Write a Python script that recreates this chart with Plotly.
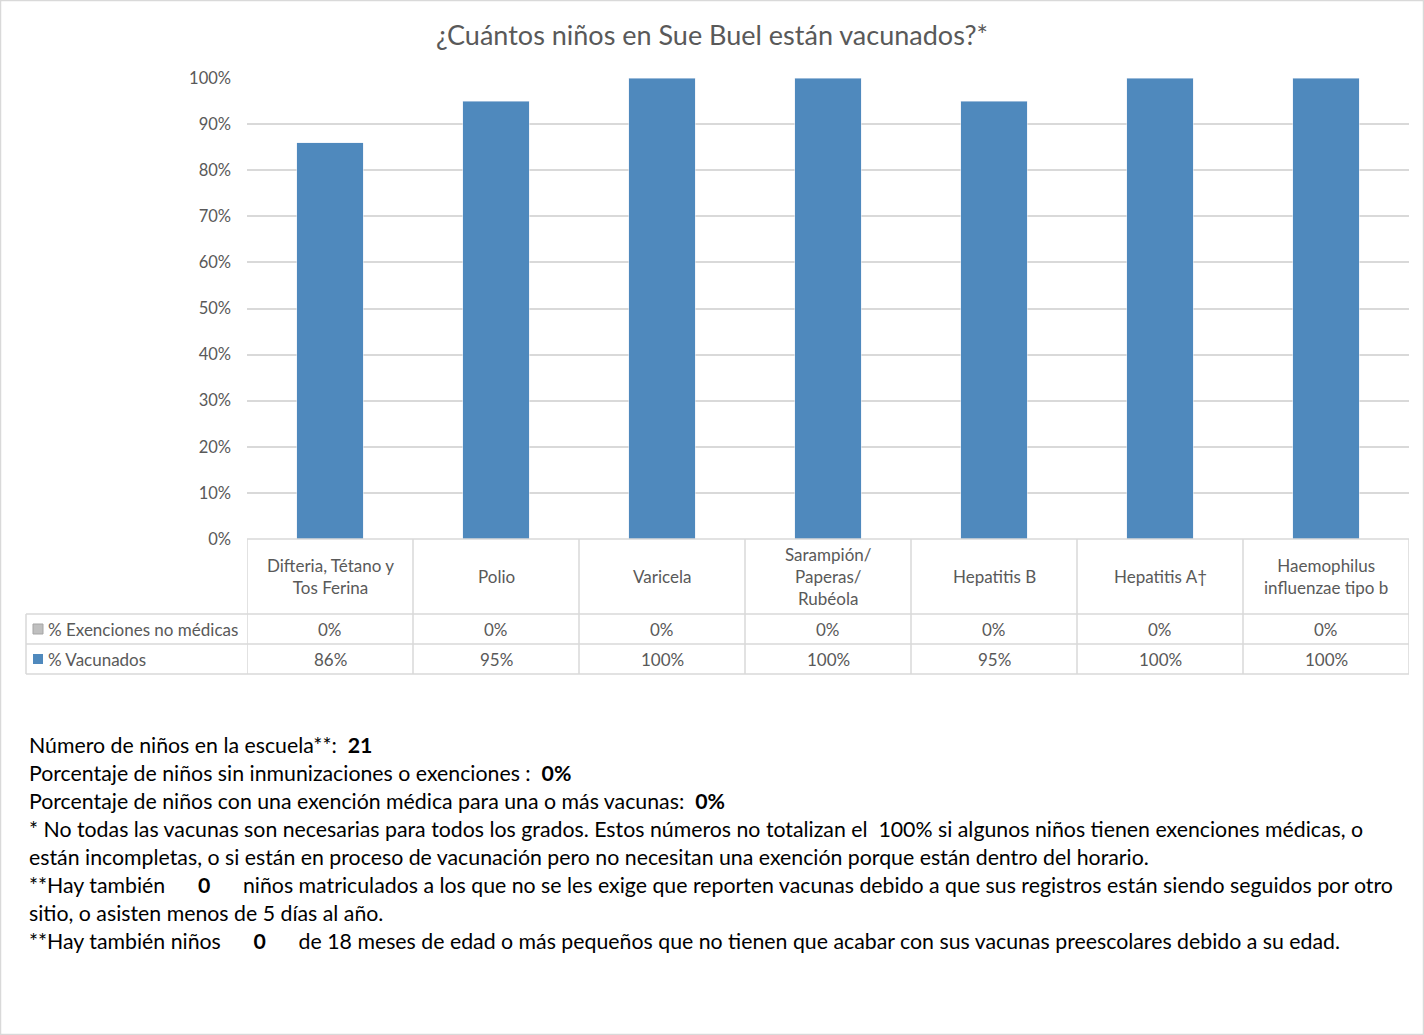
import plotly.graph_objects as go

# data
categories = [
    "Difteria, Tétano y<br>Tos Ferina",
    "Polio",
    "Varicela",
    "Sarampión/<br>Paperas/<br>Rubéola",
    "Hepatitis B",
    "Hepatitis A†",
    "Haemophilus<br>influenzae tipo b",
]
vacunados = [86, 95, 100, 100, 95, 100, 100]
exenciones = [0, 0, 0, 0, 0, 0, 0]
series_names = ["% Exenciones no médicas", "% Vacunados"]

num_ninos = 21
sin_inmunizaciones = "0%"
exencion_medica = "0%"
no_requeridos = 0
menores_18m = 0

W, H = 1424, 1035
FONT = "Lato"
GREY = "#595959"
LINE = "#D9D9D9"
BLUE = "#4F89BD"


def px(x):
    return x / W


def py(y):
    return 1 - y / H


xs = list(range(len(categories)))

fig = go.Figure()
fig.add_trace(go.Bar(x=xs, y=[v / 100 for v in exenciones], name=series_names[0],
                     marker_color="#A5A5A5", width=0.4, showlegend=False))
fig.add_trace(go.Bar(x=xs, y=[v / 100 for v in vacunados], name=series_names[1],
                     marker_color=BLUE, width=0.4, showlegend=False))

fig.update_layout(
    width=W, height=H,
    margin=dict(l=0, r=0, t=0, b=0, pad=0),
    paper_bgcolor="white", plot_bgcolor="white",
    barmode="stack",
    font=dict(family=FONT, color=GREY),
    title=dict(text="¿Cuántos niños en Sue Buel están vacunados?*",
               x=0.5, xanchor="center", y=py(36), yanchor="middle",
               font=dict(size=27, color=GREY, family=FONT)),
    xaxis=dict(domain=[px(247), px(1409)], range=[-0.5, len(categories) - 0.5],
               showticklabels=False, showgrid=False, zeroline=False,
               fixedrange=True, automargin=False),
    yaxis=dict(domain=[py(539), py(78)], range=[0, 1], dtick=0.1, tickformat=".0%",
               showgrid=True, gridcolor=LINE, gridwidth=1.5, zeroline=False,
               automargin=False, tickfont=dict(size=16.5, color=GREY),
               ticklabelstandoff=15),
)

shapes = []
# outer border
shapes.append(dict(type="rect", xref="paper", yref="paper", x0=px(0.5), x1=px(W - 0.5),
                   y0=py(H - 0.5), y1=py(0.5), line=dict(color=LINE, width=1.5)))
# table horizontal lines
shapes.append(dict(type="line", xref="paper", yref="paper", x0=px(247), x1=px(1409),
                   y0=py(539), y1=py(539), line=dict(color=LINE, width=1.5)))
for yy in [614, 644, 674]:
    shapes.append(dict(type="line", xref="paper", yref="paper", x0=px(26), x1=px(1409),
                       y0=py(yy), y1=py(yy), line=dict(color=LINE, width=1.5)))
# table vertical lines
for i in range(len(categories) + 1):
    shapes.append(dict(type="line", xref="x", yref="paper", x0=i - 0.5, x1=i - 0.5,
                       y0=py(674), y1=py(539), line=dict(color=LINE, width=1.5)))
shapes.append(dict(type="line", xref="paper", yref="paper", x0=px(26), x1=px(26),
                   y0=py(674), y1=py(614), line=dict(color=LINE, width=1.5)))
# legend keys
shapes.append(dict(type="rect", xref="paper", yref="paper", x0=px(33), x1=px(43),
                   y0=py(634), y1=py(624), fillcolor="#BFBFBF",
                   line=dict(color="#A5A5A5", width=1)))
shapes.append(dict(type="rect", xref="paper", yref="paper", x0=px(33), x1=px(43),
                   y0=py(664), y1=py(654), fillcolor=BLUE, line=dict(width=0)))

annotations = []
for i, cat in enumerate(categories):
    annotations.append(dict(x=i, y=py(576), xref="x", yref="paper", text=cat,
                            showarrow=False, font=dict(size=17, color=GREY, family=FONT),
                            xanchor="center", yanchor="middle", align="center"))
    annotations.append(dict(x=i, y=py(629), xref="x", yref="paper", text=f"{exenciones[i]}%",
                            showarrow=False, font=dict(size=17, color=GREY, family=FONT)))
    annotations.append(dict(x=i, y=py(659), xref="x", yref="paper", text=f"{vacunados[i]}%",
                            showarrow=False, font=dict(size=17, color=GREY, family=FONT)))

for k, name in enumerate(series_names):
    annotations.append(dict(x=px(46), y=py(629 + 30 * k), xref="paper", yref="paper",
                            text=name, showarrow=False, xanchor="left",
                            font=dict(size=17, color=GREY, family=FONT)))

notes = [
    f"Número de niños en la escuela**:  <b>{num_ninos}</b>",
    f"Porcentaje de niños sin inmunizaciones o exenciones :  <b>{sin_inmunizaciones}</b>",
    f"Porcentaje de niños con una exención médica para una o más vacunas:  <b>{exencion_medica}</b>",
    "* No todas las vacunas son necesarias para todos los grados. Estos números no totalizan el  100% si algunos niños tienen exenciones médicas, o",
    "están incompletas, o si están en proceso de vacunación pero no necesitan una exención porque están dentro del horario.",
    f"**Hay también      <b>{no_requeridos}</b>      niños matriculados a los que no se les exige que reporten vacunas debido a que sus registros están siendo seguidos por otro",
    "sitio, o asisten menos de 5 días al año.",
    f"**Hay también niños      <b>{menores_18m}</b>      de 18 meses de edad o más pequeños que no tienen que acabar con sus vacunas preescolares debido a su edad.",
]
for k, line in enumerate(notes):
    annotations.append(dict(x=px(27), y=py(745 + 28 * k), xref="paper", yref="paper",
                            text=line, showarrow=False, xanchor="left", yanchor="middle",
                            font=dict(size=21.3, color="black", family=FONT)))

fig.update_layout(shapes=shapes, annotations=annotations)

fig.write_html("out.html", config={"displayModeBar": False},
               post_script="document.body.style.margin='0';")
